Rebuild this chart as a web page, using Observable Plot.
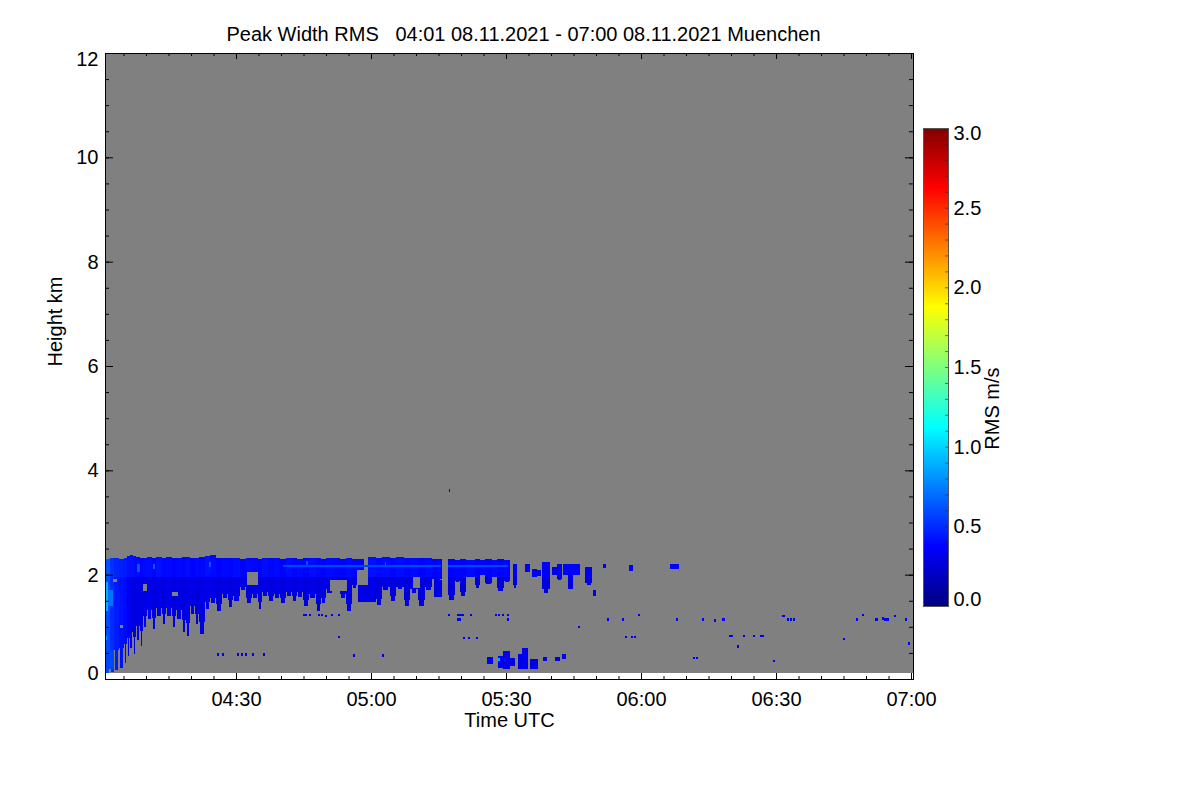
<!DOCTYPE html>
<html><head><meta charset="utf-8">
<script src="https://cdn.jsdelivr.net/npm/d3@7"></script>
<script src="https://cdn.jsdelivr.net/npm/@observablehq/plot@0.6"></script>
<style>
body{margin:0;background:#fff;}
#wrap{position:relative;width:1200px;height:800px;overflow:hidden;}
#wrap svg{position:absolute;top:0;}
</style></head><body><div id="wrap"></div>
<script>
// ---------- data (time in minutes after 04:00 UTC, height in km, value in m/s) ----------
const title = "Peak Width RMS   04:01 08.11.2021 - 07:00 08.11.2021 Muenchen";
const timeDomain = [0.89, 180.44];
const heightDomain = [0, 12];
const dataFloor = 0.115;               // lowest range gate
const bandBase = 1.95;                 // bottom of the dense cloud-top band
const taper = 0.22;                    // share of each fall streak that is narrow

// main cloud layer columns: [tStart, tEnd, top, base, lowerValue, upperValue]
const cloudColumns = [
 [0.9,2.0,2.30,0.12,0.60,0.62],[2.0,3.0,2.31,0.14,0.50,0.52],[3.0,4.0,2.32,0.17,0.45,0.48],
 [4.0,5.1,2.30,0.22,0.42,0.46],[5.1,5.8,2.31,0.30,0.40,0.45],[5.8,6.4,2.35,0.45,0.35,0.42],
 [6.4,7.1,2.38,0.60,0.30,0.42],[7.1,7.8,2.36,0.48,0.28,0.41],[7.8,8.7,2.33,0.75,0.30,0.40],
 [8.7,9.3,2.31,0.64,0.28,0.38],[9.3,10.2,2.32,1.00,0.30,0.40],[10.2,11.3,2.33,1.15,0.32,0.41],
 [11.3,12.2,2.32,0.95,0.28,0.38],[12.2,13.6,2.34,1.20,0.30,0.42],[13.6,14.4,2.32,1.05,0.28,0.39],
 [14.4,15.8,2.33,1.20,0.31,0.40],[15.8,16.7,2.31,1.00,0.28,0.38],[16.7,18.0,2.32,1.15,0.30,0.40],
 [18.0,18.9,2.34,0.90,0.28,0.39],[18.9,19.8,2.33,0.82,0.30,0.41],[19.8,20.9,2.31,1.25,0.30,0.38],
 [20.9,21.8,2.32,1.05,0.28,0.40],[21.8,23.1,2.33,0.86,0.30,0.39],[23.1,24.2,2.36,1.35,0.31,0.42],
 [24.2,25.6,2.38,1.45,0.30,0.40],[25.6,26.9,2.32,1.30,0.28,0.38],[26.9,28.2,2.31,1.55,0.30,0.40],
 [28.2,29.3,2.32,1.38,0.28,0.39],[29.3,30.9,2.31,1.50,0.30,0.41],[30.9,32.2,2.30,1.70,0.30,0.38],
 [32.2,33.6,2.31,1.45,0.28,0.40],[33.6,34.9,2.32,1.55,0.30,0.39],[34.9,35.8,2.30,1.35,0.28,0.38],
 [35.8,37.1,2.31,1.60,0.30,0.41],[37.1,38.4,2.32,1.50,0.28,0.39],[38.4,39.8,2.31,1.55,0.30,0.40],
 [39.8,41.1,2.30,1.45,0.28,0.38],[41.1,42.4,2.32,1.60,0.30,0.41],[42.4,43.6,2.31,1.50,0.28,0.39],
 [43.6,44.9,2.30,1.58,0.30,0.40],[44.9,46.2,2.31,1.40,0.28,0.38],[46.2,47.8,2.32,1.55,0.30,0.41],
 [47.8,48.9,2.31,1.30,0.28,0.39],[48.9,50.0,2.30,1.45,0.30,0.38],[50.0,51.6,2.31,1.65,0.28,0.40],
 [51.6,53.1,2.32,1.70,0.30,0.39],[53.1,54.4,2.30,1.55,0.28,0.38],[54.4,55.8,2.31,1.30,0.30,0.40],
 [55.8,56.9,2.30,1.75,0.28,0.38],[56.9,58.4,2.30,2.08,0.33,0.38],[59.3,61.1,2.33,1.65,0.30,0.42],
 [61.1,62.4,2.32,1.42,0.28,0.40],[62.4,64.2,2.33,1.70,0.30,0.41],[64.2,65.6,2.31,1.50,0.28,0.39],
 [65.6,67.3,2.33,1.72,0.30,0.41],[67.3,68.7,2.32,1.40,0.28,0.39],[68.7,70.4,2.31,1.65,0.30,0.40],
 [70.4,72.0,2.32,1.40,0.28,0.38],[72.0,73.6,2.31,1.70,0.30,0.40],[73.6,75.8,2.30,1.90,0.28,0.38],
 [77.1,78.7,2.30,1.52,0.28,0.38],[78.7,79.8,2.29,1.85,0.30,0.39],[79.8,81.1,2.30,1.60,0.28,0.38],
 [81.1,83.1,2.29,1.95,0.30,0.40],[83.1,84.2,2.30,1.75,0.28,0.38],[84.2,85.3,2.28,2.00,0.30,0.39],
 [85.3,86.9,2.30,1.82,0.28,0.38],[86.9,88.0,2.29,1.95,0.30,0.40],[88.0,89.6,2.30,1.68,0.28,0.38],
 [89.6,90.9,2.28,1.85,0.30,0.39],[91.6,92.4,2.20,1.75,0.28,0.35],[94.2,95.3,2.20,2.05,0.30,0.35],
 [95.8,96.9,2.10,1.95,0.28,0.34],[98.0,99.8,2.25,1.65,0.28,0.36],[101.3,102.4,2.20,1.90,0.28,0.35],
 [102.7,106.4,2.20,2.00,0.30,0.38],[107.6,109.1,2.15,1.80,0.28,0.35]
];

// detached fall-streak and cloud blobs: [tStart, tEnd, bottom, top, value]
const cloudBlobs = [
 [57.0,61.0,1.48,1.80,0.30],[74.0,75.8,1.57,1.90,0.30],[103.8,104.9,1.72,2.00,0.30],
 [100.3,101.3,2.00,2.15,0.30],[109.3,110.0,1.60,1.70,0.30],[111.6,112.2,2.12,2.20,0.35],
 [117.3,118.2,2.07,2.18,0.35],[126.4,128.4,2.10,2.20,0.38],[96.4,97.8,1.97,2.08,0.30]
];

// low-level echoes near 05:30: [tStart, tEnd, bottom, top, value]
const lowBlobs = [
 [85.8,87.1,0.28,0.42,0.35],[88.2,89.3,0.22,0.45,0.35],[89.3,90.9,0.19,0.53,0.32],
 [90.9,92.0,0.25,0.40,0.30],[92.7,93.6,0.19,0.47,0.30],[93.6,94.9,0.19,0.60,0.33],
 [95.3,97.1,0.19,0.38,0.30],[98.2,99.1,0.34,0.43,0.30],[100.9,102.0,0.34,0.43,0.30],
 [102.4,103.3,0.38,0.47,0.35],[88.3,88.7,0.35,0.40,0.90]
];

// brighter patches: [tStart, tEnd, bottom, top, value]
const brightPatches = [
 [0.9,1.6,1.30,1.85,0.90],[0.9,1.4,0.75,0.82,0.85],[1.6,2.6,1.40,1.70,0.72],
 [0.9,3.0,0.20,0.55,0.58],[8.0,8.6,2.05,2.20,0.65],[11.5,11.9,2.10,2.20,0.65],
 [24.0,24.4,2.15,2.25,0.65],[45.5,45.9,2.18,2.26,0.62],[63.0,63.4,2.15,2.25,0.65],
 [40.5,75.5,2.15,2.19,0.58],[77.1,90.5,2.15,2.19,0.58]
];

// gaps inside the cloud: [tStart, tEnd, bottom, top]
const cloudGaps = [
 [9.3,10.2,1.68,1.82],[15.8,17.1,1.60,1.66],[32.4,34.9,1.80,2.05],[50.9,54.7,1.68,1.90],
 [69.3,70.9,1.74,1.95],[2.7,3.5,1.86,1.92],[4.3,4.8,0.97,1.03]
];

// isolated single echoes: [time, height, duration]
const specks = [
 [44.9,1.20,0.8],[46.2,1.20,0.4],[48.2,1.20,0.5],[48.9,1.20,0.4],[49.8,1.18,0.4],[51.1,1.20,0.4],[52.7,1.20,0.4],
 [77.1,1.20,0.4],[79.1,1.20,1.6],[79.1,1.12,0.9],[82.0,1.20,0.4],[87.6,1.20,0.4],[88.2,1.20,0.4],[89.1,1.20,0.4],
 [90.2,1.20,0.4],[90.2,1.12,0.4],[112.4,1.12,0.4],[115.8,1.12,0.4],[119.3,1.20,0.4],[127.8,1.12,0.4],
 [133.6,1.12,0.4],[136.2,1.10,0.4],[138.0,1.12,0.7],[151.3,1.18,0.8],[152.4,1.12,0.4],[153.1,1.12,0.4],
 [153.8,1.12,0.4],[167.8,1.12,0.4],[169.1,1.20,0.4],[172.0,1.12,0.7],[173.6,1.14,0.4],[174.0,1.12,1.0],
 [176.2,1.18,0.4],[178.7,1.12,0.4],
 [52.7,0.78,0.4],[80.4,0.76,0.4],[81.6,0.76,0.4],[83.3,0.76,0.4],[106.0,0.97,0.4],[116.4,0.78,0.4],
 [117.8,0.78,0.4],[118.4,0.78,0.4],[139.6,0.80,0.9],[142.7,0.80,0.4],[144.9,0.80,0.4],[146.4,0.80,0.9],
 [141.3,0.60,0.4],[164.9,0.74,0.5],[179.3,0.66,0.5],
 [25.8,0.45,0.4],[26.9,0.45,0.4],[30.2,0.45,0.4],[31.1,0.45,0.4],[32.0,0.45,0.4],[33.6,0.45,0.4],
 [36.0,0.45,0.4],[56.0,0.43,0.4],[62.4,0.43,0.4],[131.6,0.38,0.4],[132.2,0.38,0.4],[149.3,0.32,0.4],
 [77.3,3.59,0.3]
];
const speckValue = 0.33;
const speckDepth = 0.045;

// axes
const xTickMinutes = [30, 60, 90, 120, 150, 180];
const xTickLabels = ["04:30", "05:00", "05:30", "06:00", "06:30", "07:00"];
const yTickValues = [2, 4, 6, 8, 10];
const colorStops = [0, 0.375, 1.125, 1.875, 2.625, 3];
const colorRange = ["#000080", "#0000ff", "#00ffff", "#ffff00", "#ff0000", "#800000"];
const cbTickValues = [0.5, 1.0, 1.5, 2.0, 2.5];

// ---------- build ----------
const T0 = Date.UTC(2021, 10, 8, 4, 0, 0);
const tm = m => new Date(T0 + m * 60000);
const FONT = "'Liberation Sans', Arial, Helvetica, sans-serif";
const FS = 20;
const colorSpec = {type: "linear", domain: colorStops, range: colorRange, interpolate: "rgb"};

const W = 1200, H = 800, ML = 105, MR = 287, MT = 53, MB = 121;
const FW = W - ML - MR, FH = H - MT - MB;

const rectOf = a => ({x1: tm(a[0]), x2: tm(a[1]), y1: a[2], y2: a[3], v: a[4]});
// each column: full width down to a slightly shallower edge, its middle part hanging to the base
const lower = cloudColumns.map(c => {
  const edge = c[3] + taper * (Math.min(c[2], bandBase) - c[3]);
  return {x1: tm(c[0]), x2: tm(c[1]), y1: Math.max(c[3], edge), y2: c[2], v: c[4]};
});
const lowerTip = cloudColumns.map(c => {
  const w = c[1] - c[0];
  return {x1: tm(c[0] + 0.2 * w), x2: tm(c[1] - 0.2 * w), y1: c[3], y2: c[2], v: c[4]};
});
const upper = cloudColumns.filter(c => c[2] > bandBase)
  .map(c => ({x1: tm(c[0]), x2: tm(c[1]), y1: Math.max(c[3], bandBase), y2: c[2], v: c[5]}));
const blobs = cloudBlobs.concat(lowBlobs).map(rectOf);
const bright = brightPatches.map(rectOf);
const gaps = cloudGaps.map(g => ({x1: tm(g[0]), x2: tm(g[1]), y1: g[2], y2: g[3]}));
const dots = specks.map(s => ({x1: tm(s[0]), x2: tm(s[0] + s[2]), y1: s[1], y2: s[1] + speckDepth, v: speckValue}));

const xMinor = d3.range(5, 181, 5);
const yMinor = d3.range(0, 12.01, 0.5);
const crisp = {shapeRendering: "crispEdges"};
const cell = data => Plot.rect(data, {x1: "x1", x2: "x2", y1: "y1", y2: "y2", fill: "v", ...crisp});

const main = Plot.plot({
  width: W, height: H, marginLeft: ML, marginRight: MR, marginTop: MT, marginBottom: MB,
  style: {fontFamily: FONT, fontSize: FS + "px", background: "transparent", color: "#000"},
  x: {type: "utc", domain: timeDomain.map(tm), axis: null},
  y: {domain: heightDomain, axis: null},
  color: colorSpec,
  marks: [
    Plot.rect([timeDomain], {x1: d => tm(d[0]), x2: d => tm(d[1]), y1: dataFloor, y2: heightDomain[1], fill: "#808080", ...crisp}),
    cell(lower), cell(lowerTip), cell(upper), cell(blobs), cell(bright),
    Plot.rect(gaps, {x1: "x1", x2: "x2", y1: "y1", y2: "y2", fill: "#808080", ...crisp}),
    cell(dots),
    // ticks (inward)
    Plot.ruleX(xMinor, {x: d => tm(d), insetTop: FH - 3, stroke: "#000"}),
    Plot.ruleX(xMinor, {x: d => tm(d), insetBottom: FH - 3, stroke: "#000"}),
    Plot.ruleX(xTickMinutes, {x: d => tm(d), insetTop: FH - 6, stroke: "#000"}),
    Plot.ruleX(xTickMinutes, {x: d => tm(d), insetBottom: FH - 6, stroke: "#000"}),
    Plot.ruleY(yMinor, {y: d => d, insetRight: FW - 4, stroke: "#000"}),
    Plot.ruleY(yMinor, {y: d => d, insetLeft: FW - 4, stroke: "#000"}),
    Plot.ruleY([0, ...yTickValues, 12], {y: d => d, insetRight: FW - 8, stroke: "#000"}),
    Plot.ruleY([0, ...yTickValues, 12], {y: d => d, insetLeft: FW - 8, stroke: "#000"}),
    Plot.frame({stroke: "#000"}),
    // tick labels
    Plot.text(xTickMinutes, {x: d => tm(d), frameAnchor: "bottom", dy: 26, text: (d, i) => xTickLabels[i], fontSize: FS}),
    Plot.text(yTickValues, {y: d => d, frameAnchor: "left", dx: -7, textAnchor: "end", text: d => String(d), fontSize: FS}),
    Plot.text([0], {y: d => d, frameAnchor: "left", dx: -7, dy: -6, textAnchor: "end", text: d => String(d), fontSize: FS}),
    Plot.text([12], {y: d => d, frameAnchor: "left", dx: -7, dy: 6, textAnchor: "end", text: d => String(d), fontSize: FS}),
    // labels
    Plot.text(["Height km"], {frameAnchor: "left", dx: -50, rotate: -90, text: d => d, fontSize: FS}),
    Plot.text(["Time UTC"], {frameAnchor: "bottom", dy: 47, text: d => d, fontSize: FS}),
    Plot.text([title], {frameAnchor: "top", dx: 14, dy: -27, text: d => d, fontSize: FS})
  ]
});
main.style.left = "0px";
document.getElementById("wrap").appendChild(main);

// ---------- colour bar ----------
const cbLeft = 915, cbW = 285;
const cbStep = 0.01;
const cbRamp = d3.range(0, 3 - 1e-9, cbStep);
const cbMinor = d3.range(0.1, 2.95, 0.1);
const bar = Plot.plot({
  width: cbW, height: H, marginLeft: 923 - cbLeft, marginRight: cbW - (948 - cbLeft), marginTop: 128, marginBottom: H - 606,
  style: {fontFamily: FONT, fontSize: FS + "px", background: "transparent", color: "#000"},
  x: {domain: [0, 1], axis: null},
  y: {domain: [0, 3], axis: null},
  color: colorSpec,
  marks: [
    Plot.rect(cbRamp, {x1: 0, x2: 1, y1: d => d, y2: d => Math.min(3, d + cbStep), fill: d => d + cbStep / 2, ...crisp}),
    Plot.ruleY(cbMinor, {y: d => d, insetLeft: 22, stroke: "#222", strokeOpacity: 0.6}),
    Plot.frame({stroke: "#555"}),
    Plot.text(cbTickValues, {y: d => d, frameAnchor: "right", dx: 5, textAnchor: "start", text: d => d.toFixed(1), fontSize: FS}),
    Plot.text([0], {y: d => d, frameAnchor: "right", dx: 5, dy: -7, textAnchor: "start", text: d => d.toFixed(1), fontSize: FS}),
    Plot.text([3], {y: d => d, frameAnchor: "right", dx: 5, dy: 5, textAnchor: "start", text: d => d.toFixed(1), fontSize: FS}),
    Plot.text(["RMS m/s"], {frameAnchor: "right", dx: 44, rotate: -90, text: d => d, fontSize: FS})
  ]
});
bar.style.left = cbLeft + "px";
document.getElementById("wrap").appendChild(bar);
</script></body></html>
